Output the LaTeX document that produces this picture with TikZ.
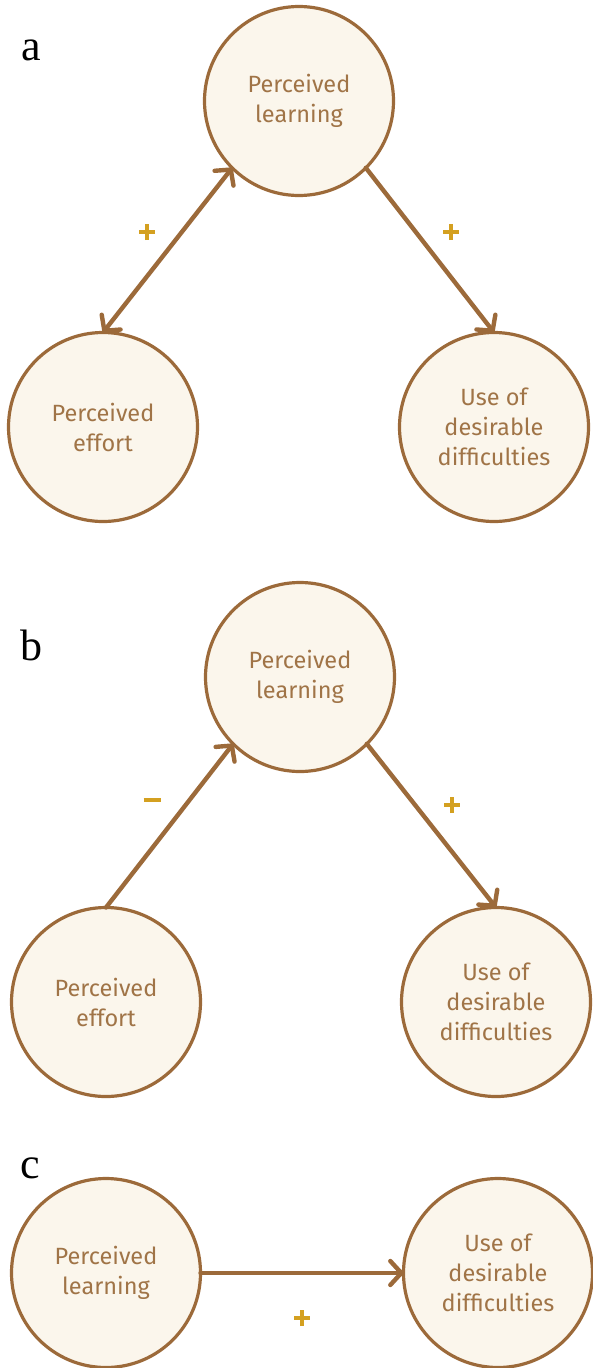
\documentclass[tikz,border=0pt]{standalone}
\usepackage{fontspec}
\setmainfont{Liberation Serif}
\newfontfamily\circfont{Fira Sans}
\usetikzlibrary{arrows.meta}
\definecolor{brn}{HTML}{9C6A3A}
\definecolor{brntxt}{HTML}{A07447}
\definecolor{cfill}{HTML}{FBF6EC}
\definecolor{gold}{HTML}{D4A020}
\newcommand{\plussign}{\hbox{\rule[6.25pt]{16pt}{3.5pt}\kern-9.75pt\rule{3.5pt}{16pt}\kern6.25pt}}
\newcommand{\minussign}{\hbox{\rule{17pt}{3.5pt}}}
\tikzset{
  var/.style={circle, draw=brn, line width=3.2pt, fill=cfill, minimum size=189pt, inner sep=0pt, outer sep=0pt,
    align=center, text=brntxt, font=\circfont\fontsize{23.5}{30}\selectfont},
  tip/.tip={Straight Barb[length=11pt,width=24pt,line cap=round,line join=round]},
  conn/.style={draw=brn, line width=4.4pt, line cap=round, -tip},
  sgn/.style={text=gold, inner sep=0pt},
  panel/.style={font=\fontsize{44}{44}\selectfont, text=black, inner sep=0pt}
}
\begin{document}
\begin{tikzpicture}[x=1pt,y=-1pt]
\useasboundingbox (0,0) rectangle (592,1368);
% panel a
\node[panel] (la) at (31,50) {a};
\node[var] (ta) at (299,101) {Perceived\\learning};
\node[var] (ea) at (103,427) {Perceived\\effort};
\node[var] (da) at (494,427) {Use of\\desirable\\difficulties};
\draw[conn, tip-tip] (ea.90) -- (ta.225);
\draw[conn] (ta.315) -- (da.90);
\node[sgn] (pa1) at (147,232) {\plussign};
\node[sgn] (pa2) at (451,232) {\plussign};
% panel b
\node[panel] (lb) at (31,645) {b};
\node[var] (tb) at (300,677) {Perceived\\learning};
\node[var] (eb) at (106,1002) {Perceived\\effort};
\node[var] (db) at (496,1002) {Use of\\desirable\\difficulties};
\draw[conn] (eb.90) -- (tb.225);
\draw[conn] (tb.315) -- (db.90);
\node[sgn] (mb1) at (152,800) {\minussign};
\node[sgn] (pb2) at (452,805) {\plussign};
% panel c
\node[panel] (lc) at (30,1168) {c};
\node[var] (lcn) at (106,1273) {Perceived\\learning};
\node[var] (rcn) at (498,1273) {Use of\\desirable\\difficulties};
\draw[conn] (lcn.0) -- (rcn.180);
\node[sgn] (pc) at (302,1318) {\plussign};
\end{tikzpicture}
\end{document}
